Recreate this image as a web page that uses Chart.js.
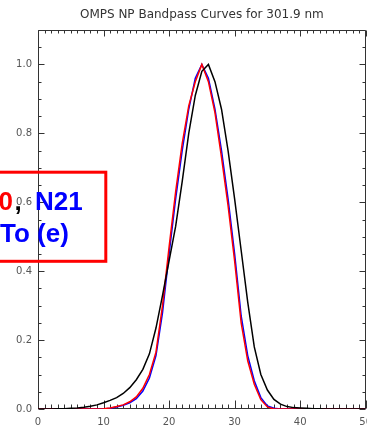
<!DOCTYPE html>
<html lang="en">
<head>
<meta charset="UTF-8">
<title>OMPS NP Bandpass Curves for 301.9 nm</title>
<style>
  html, body { margin: 0; padding: 0; background: #fff; }
  #wrap { width: 367px; height: 437px; overflow: hidden; }
</style>
</head>
<body>
<div id="wrap"><canvas id="bandpass" width="367" height="437"></canvas></div>

<script src="https://cdn.jsdelivr.net/npm/chart.js"></script>
<script>
// wavelength sample index (x axis)
const xVals = [0, 1, 2, 3, 4, 5, 6, 7, 8, 9, 10, 11, 12, 13, 14, 15, 16, 17, 18, 19, 20,
               21, 22, 23, 24, 25, 26, 27, 28, 29, 30, 31, 32, 33, 34, 35, 36, 37, 38, 39, 40,
               41, 42, 43, 44, 45, 46, 47, 48, 49, 50];

// black curve
const blackVals = [0, 0, 0, 0.001, 0.001, 0.002, 0.003, 0.005, 0.008, 0.012, 0.018,
                   0.025, 0.033, 0.045, 0.062, 0.085, 0.115, 0.16, 0.235, 0.33, 0.43,
                   0.53, 0.66, 0.80, 0.91, 0.98, 1.0, 0.95, 0.87, 0.75, 0.61,
                   0.46, 0.31, 0.18, 0.10, 0.055, 0.028, 0.014, 0.007, 0.004, 0.003,
                   0.002, 0.001, 0.001, 0, 0, 0, 0, 0, 0, 0];

// red curve
const redVals = [0, 0, 0, 0, 0, 0, 0, 0, 0, 0, 0.001,
                 0.003, 0.007, 0.012, 0.021, 0.035, 0.06, 0.10, 0.165, 0.30, 0.47,
                 0.63, 0.77, 0.88, 0.95, 1.0, 0.95, 0.86, 0.73, 0.59, 0.43,
                 0.25, 0.14, 0.072, 0.027, 0.006, 0, 0, 0, 0, 0,
                 0, 0, 0, 0, 0, 0, 0, 0, 0, 0];

// blue curve
const blueVals = [0, 0, 0, 0, 0, 0, 0, 0, 0, 0, 0,
                  0.002, 0.006, 0.011, 0.018, 0.03, 0.052, 0.09, 0.155, 0.28, 0.45,
                  0.61, 0.75, 0.87, 0.96, 1.0, 0.96, 0.87, 0.75, 0.61, 0.45,
                  0.27, 0.155, 0.082, 0.033, 0.009, 0.002, 0, 0, 0, 0,
                  0, 0, 0, 0, 0, 0, 0, 0, 0, 0];

const xTicks = [0, 10, 20, 30, 40, 50];
const yTicks = [0, 0.2, 0.4, 0.6, 0.8, 1.0];

function toPoints(ys) {
    return xVals.map((x, i) => ({ x: x, y: ys[i] }));
}

// IDL-style frame with inward ticks on all four sides
const frameTicks = {
    id: 'frameTicks',
    beforeDatasetsDraw(chart) {
        const { ctx, chartArea: a, scales: { x, y } } = chart;
        const L = Math.round(a.left) + 0.5, R = Math.round(a.right) - 0.5;
        const T = Math.round(a.top) + 0.5, B = Math.round(a.bottom) - 0.5;
        ctx.save();
        ctx.strokeStyle = '#333';
        ctx.lineWidth = 1;
        ctx.beginPath();
        ctx.moveTo(L, B); ctx.lineTo(L, T); ctx.lineTo(R, T); ctx.lineTo(R, B); ctx.lineTo(L, B);
        // x ticks, minor every 1, major every 10
        for (let v = 0; v <= 50; v++) {
            const px = Math.round(x.getPixelForValue(v)) + 0.5;
            const major = v % 10 === 0;
            ctx.moveTo(px, B); ctx.lineTo(px, B - (major ? 8 : 4));
            ctx.moveTo(px, T); ctx.lineTo(px, T + (major ? 6 : 3));
        }
        // y ticks, minor every 0.05, major every 0.2
        for (let k = 0; k <= 22; k++) {
            const py = Math.round(y.getPixelForValue(k * 0.05)) + 0.5;
            const major = k % 4 === 0;
            ctx.moveTo(L, py); ctx.lineTo(L + (major ? 6 : 3), py);
            ctx.moveTo(R, py); ctx.lineTo(R - (major ? 6 : 3), py);
        }
        ctx.stroke();
        ctx.restore();
    }
};

// red labelled box overlapping the left edge
const labelBox = {
    id: 'labelBox',
    afterDraw(chart) {
        const ctx = chart.ctx;
        ctx.save();
        ctx.strokeStyle = '#ff0000';
        ctx.lineWidth = 3;
        ctx.strokeRect(-10, 172.2, 115.8, 89.1);
        ctx.font = 'bold 26px "Liberation Sans", Arial, sans-serif';
        ctx.textBaseline = 'alphabetic';
        ctx.textAlign = 'left';
        ctx.fillStyle = '#ff0000';
        ctx.fillText('0', -1.5, 210);
        ctx.fillStyle = '#000000';
        ctx.fillText(',', 14.5, 210);
        ctx.fillStyle = '#0000ff';
        ctx.fillText('N21', 35, 210);
        ctx.fillText('To (e)', 0, 242);
        ctx.restore();
    }
};

const tickFont = { family: '"DejaVu Sans", sans-serif', size: 10 };

new Chart(document.getElementById('bandpass'), {
    type: 'line',
    data: {
        datasets: [
            { label: 'black', data: toPoints(blackVals), borderColor: '#000000', borderWidth: 1.5, pointRadius: 0, tension: 0, fill: false },
            { label: 'red', data: toPoints(redVals), borderColor: '#ff0000', borderWidth: 1.5, pointRadius: 0, tension: 0, fill: false },
            { label: 'blue', data: toPoints(blueVals), borderColor: '#0000ff', borderWidth: 1.5, pointRadius: 0, tension: 0, fill: false }
        ]
    },
    options: {
        responsive: false,
        animation: false,
        layout: { autoPadding: false, padding: { top: 0, right: 1.3, bottom: 0, left: 0 } },
        plugins: {
            legend: { display: false },
            tooltip: { enabled: false },
            title: {
                display: true,
                fullSize: false,
                text: 'OMPS NP Bandpass Curves for 301.9 nm',
                color: '#333',
                font: { family: '"DejaVu Sans", sans-serif', size: 12, weight: 'normal' },
                padding: { top: 8, bottom: 7.6 }
            }
        },
        scales: {
            x: {
                type: 'linear',
                min: 0,
                max: 50,
                grid: { display: false, drawTicks: false },
                border: { display: false },
                ticks: { color: '#555', font: tickFont, padding: 7, maxRotation: 0 },
                afterBuildTicks(s) { s.ticks = xTicks.map(v => ({ value: v })); },
                afterFit(s) { s.height = 28; s.paddingLeft = 0; s.paddingRight = 0; }
            },
            y: {
                type: 'linear',
                min: 0,
                max: 1.1,
                grid: { display: false, drawTicks: false },
                border: { display: false },
                ticks: { color: '#555', font: tickFont, padding: 6, callback: v => v.toFixed(1) },
                afterBuildTicks(s) { s.ticks = yTicks.map(v => ({ value: v })); },
                afterFit(s) { s.width = 38; s.paddingTop = 0; s.paddingBottom = 0; }
            }
        }
    },
    plugins: [frameTicks, labelBox]
});
</script>
</body>
</html>
